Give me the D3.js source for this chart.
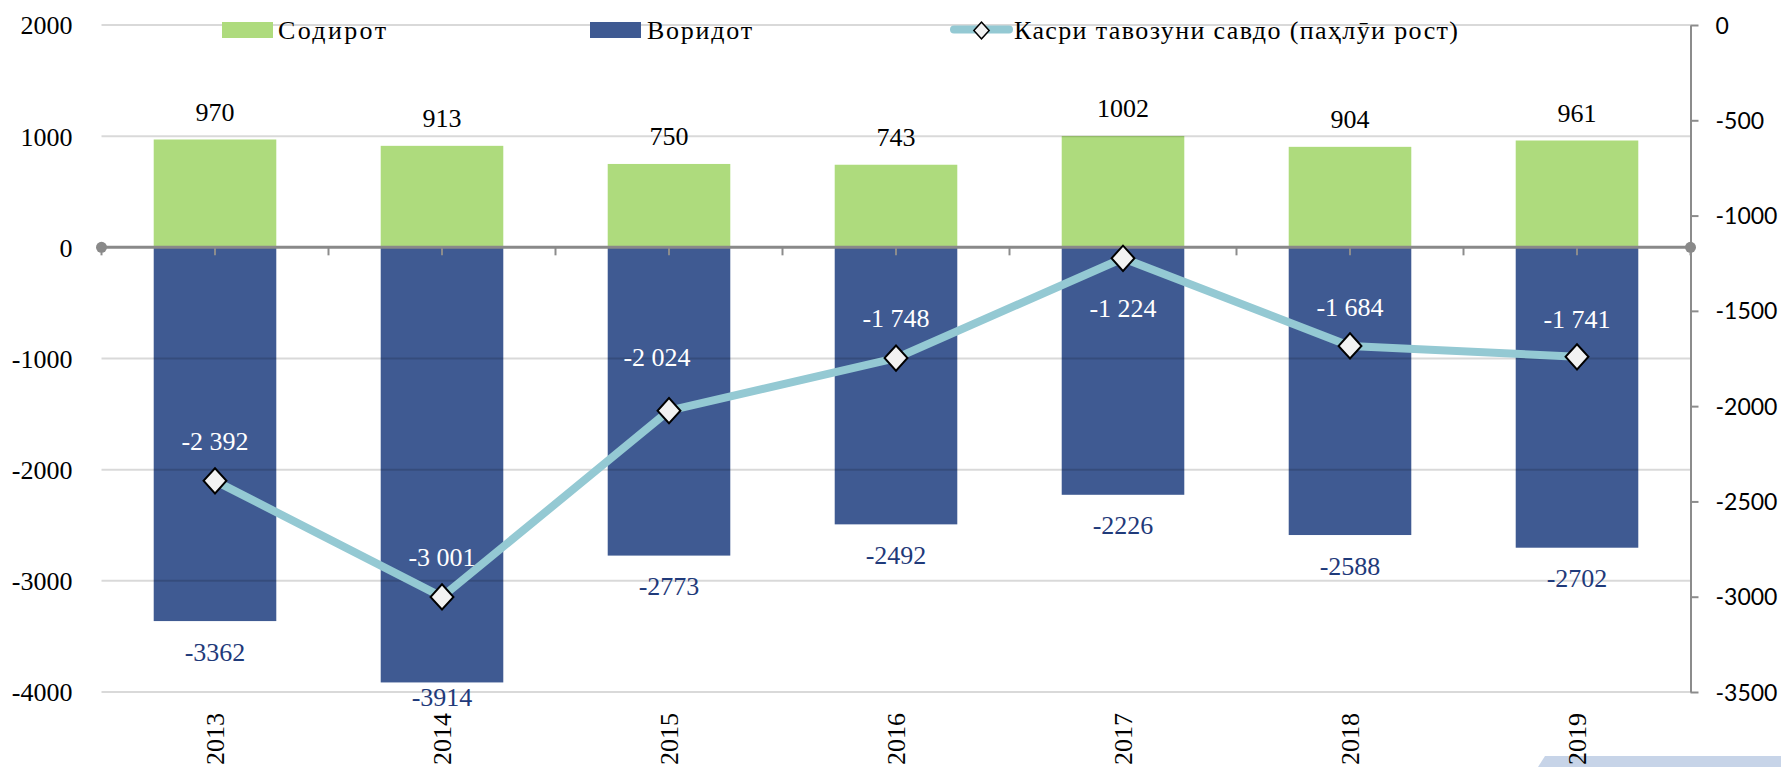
<!DOCTYPE html>
<html>
<head>
<meta charset="utf-8">
<script src="https://cdn.jsdelivr.net/npm/d3@7"></script>
<style>
  html, body { margin: 0; padding: 0; background: #fff; }
  svg { display: block; }
</style>
</head>
<body>
<svg id="chart" width="1781" height="767"></svg>
<script>
// ---------- data ----------
const years = ["2013", "2014", "2015", "2016", "2017", "2018", "2019"];
const exportsVals = [970, 913, 750, 743, 1002, 904, 961];            // Содирот
const importsVals = [-3362, -3914, -2773, -2492, -2226, -2588, -2702]; // Воридот
const balanceVals = [-2392, -3001, -2024, -1748, -1224, -1684, -1741]; // Касри тавозуни савдо
const leftTicks = [2000, 1000, 0, -1000, -2000, -3000, -4000];
const rightTicks = [0, -500, -1000, -1500, -2000, -2500, -3000, -3500];
const seriesNames = ["Содирот", "Воридот", "Касри тавозуни савдо (паҳлӯи рост)"];

// ---------- layout / style ----------
const W = 1781, H = 767;
const plot = { left: 101.5, right: 1690.5, top: 25, bottom: 692 };
const colGreen = "#AEDB7D", colBlue = "#3F5A92", colLine = "#94C9D3", colNavy = "#1F3A7A";
const serif = "'Liberation Serif', 'Times New Roman', serif";
const sans = "Lato, 'Liberation Sans', sans-serif";
// label nudges for line labels [dx, dy of label centre from marker]
const balanceLabelNudge = [[0, -39], [0, -39], [-12, -53], [0, -40], [0, 50], [0, -39], [0, -37]];

const svg = d3.select("#chart");

const plain = d3.formatLocale({ decimal: ".", thousands: "", grouping: [3], currency: ["", ""], minus: "-" }).format("d");
const loc = d3.formatLocale({ decimal: ",", thousands: " ", grouping: [3], currency: ["", ""], minus: "-" });
const fmtBal = loc.format(",d");

const x = d3.scaleBand().domain(years).range([plot.left, plot.right])
  .paddingInner(0.46).paddingOuter(0.23);
const yL = d3.scaleLinear().domain([-4000, 2000]).range([plot.bottom, plot.top]);
const yR = d3.scaleLinear().domain([-3500, 0]).range([plot.bottom, plot.top]);
const cx = d => x(d) + x.bandwidth() / 2;

// decoration bottom-right
svg.append("path")
  .attr("d", d3.line()([[1538, 767], [1545, 756], [W, 756], [W, 767]]) + "Z")
  .attr("fill", "#C7D4E8");

// bars
const gBars = svg.append("g");
gBars.selectAll("rect.exp").data(years).join("rect")
  .attr("class", "exp")
  .attr("x", d => x(d)).attr("width", x.bandwidth())
  .attr("y", (d, i) => yL(exportsVals[i]))
  .attr("height", (d, i) => yL(0) - yL(exportsVals[i]))
  .attr("fill", colGreen);
gBars.selectAll("rect.imp").data(years).join("rect")
  .attr("class", "imp")
  .attr("x", d => x(d)).attr("width", x.bandwidth())
  .attr("y", yL(0))
  .attr("height", (d, i) => yL(importsVals[i]) - yL(0))
  .attr("fill", colBlue);

// gridlines (drawn over bars, translucent)
svg.append("g").selectAll("line").data(leftTicks.filter(v => v !== 0)).join("line")
  .attr("x1", plot.left).attr("x2", plot.right)
  .attr("y1", d => yL(d)).attr("y2", d => yL(d))
  .attr("stroke", "rgba(0,0,0,0.15)").attr("stroke-width", 2);

// left axis labels
const axL = d3.axisLeft(yL).tickValues(leftTicks).tickSize(0).tickPadding(29).tickFormat(plain);
const gL = svg.append("g").attr("transform", `translate(${plot.left},0)`).call(axL);
gL.select(".domain").remove();
gL.selectAll("text").attr("font-family", serif).attr("font-size", 26).attr("fill", "#000")
  .attr("dy", "0.34em");

// right axis
const axR = d3.axisRight(yR).tickValues(rightTicks).tickSize(8).tickSizeOuter(0).tickPadding(17).tickFormat(plain);
const gR = svg.append("g").attr("transform", `translate(${plot.right},0)`).call(axR);
gR.select(".domain").attr("stroke", "#8C8C8C").attr("stroke-width", 2);
gR.selectAll(".tick line").attr("stroke", "#8C8C8C").attr("stroke-width", 2);
gR.selectAll("text").attr("font-family", sans).attr("font-size", 23).attr("fill", "#000")
  .attr("dy", "0.35em");

// x axis (zero line) with ticks at centres and boundaries
const tickXs = [];
years.forEach(d => { tickXs.push(cx(d) - x.step() / 2); tickXs.push(cx(d)); });
tickXs.push(cx(years[years.length - 1]) + x.step() / 2);
const gX = svg.append("g");
gX.selectAll("line.t").data(tickXs).join("line").attr("class", "t")
  .attr("x1", d => d).attr("x2", d => d)
  .attr("y1", yL(0)).attr("y2", yL(0) + 8)
  .attr("stroke", "#8C8C8C").attr("stroke-width", 2);
gX.append("line").attr("x1", plot.left).attr("x2", plot.right)
  .attr("y1", yL(0)).attr("y2", yL(0))
  .attr("stroke", "#898989").attr("stroke-width", 3);
gX.selectAll("circle").data([plot.left, plot.right]).join("circle")
  .attr("cx", d => d).attr("cy", yL(0)).attr("r", 5.5).attr("fill", "#898989");

// year labels
svg.append("g").selectAll("text").data(years).join("text")
  .attr("transform", d => `translate(${cx(d)},713) rotate(-90)`)
  .attr("text-anchor", "end").attr("dy", "0.34em")
  .attr("font-family", serif).attr("font-size", 26).attr("fill", "#000")
  .text(d => d);

// line
const line = d3.line().x((v, i) => cx(years[i])).y(v => yR(v));
svg.append("path").datum(balanceVals).attr("d", line)
  .attr("fill", "none").attr("stroke", colLine).attr("stroke-width", 8)
  .attr("stroke-linejoin", "round");

const diamond = d3.symbol().type(d3.symbolSquare).size(290);
svg.append("g").selectAll("path").data(balanceVals).join("path")
  .attr("d", diamond)
  .attr("transform", (v, i) => `translate(${cx(years[i])},${yR(v)}) scale(0.95,1.05) rotate(45)`)
  .attr("fill", "#F2F2F2").attr("stroke", "#000").attr("stroke-width", 2);

// value labels
svg.append("g").selectAll("text").data(exportsVals).join("text")
  .attr("x", (v, i) => cx(years[i])).attr("y", v => yL(v) - 19)
  .attr("text-anchor", "middle").attr("font-family", serif).attr("font-size", 26).attr("fill", "#000")
  .text(v => plain(v));
svg.append("g").selectAll("text").data(importsVals).join("text")
  .attr("x", (v, i) => cx(years[i])).attr("y", v => Math.min(yL(v) + 39.5, 706))
  .attr("text-anchor", "middle").attr("font-family", serif).attr("font-size", 26).attr("fill", colNavy)
  .text(v => plain(v));

svg.append("g").selectAll("text").data(balanceVals).join("text")
  .attr("x", (v, i) => cx(years[i]) + balanceLabelNudge[i][0])
  .attr("y", (v, i) => yR(v) + balanceLabelNudge[i][1])
  .attr("dy", "0.33em")
  .attr("text-anchor", "middle").attr("font-family", serif).attr("font-size", 26).attr("fill", "#fff")
  .text(v => fmtBal(v));

// legend
const lg = svg.append("g");
lg.append("rect").attr("x", 222).attr("y", 22).attr("width", 51).attr("height", 16).attr("fill", colGreen);
lg.append("rect").attr("x", 590).attr("y", 22).attr("width", 51).attr("height", 16).attr("fill", colBlue);
lg.append("line").attr("x1", 954).attr("x2", 1009).attr("y1", 29.5).attr("y2", 29.5)
  .attr("stroke", colLine).attr("stroke-width", 8).attr("stroke-linecap", "round");
lg.append("path").attr("d", d3.symbol().type(d3.symbolSquare).size(130))
  .attr("transform", "translate(981.5,30.5) scale(0.95,1.05) rotate(45)")
  .attr("fill", "#F2F2F2").attr("stroke", "#000").attr("stroke-width", 1.5);
const legendTexts = [
  { t: seriesNames[0], x: 278, len: 108 },
  { t: seriesNames[1], x: 647, len: 105 },
  { t: seriesNames[2], x: 1014, len: 444 }
];
lg.selectAll("text").data(legendTexts).join("text")
  .attr("x", d => d.x).attr("y", 38.5)
  .attr("font-family", serif).attr("font-size", 26).attr("fill", "#000")
  .attr("textLength", d => d.len).attr("lengthAdjust", "spacing")
  .text(d => d.t);
</script>
</body>
</html>
